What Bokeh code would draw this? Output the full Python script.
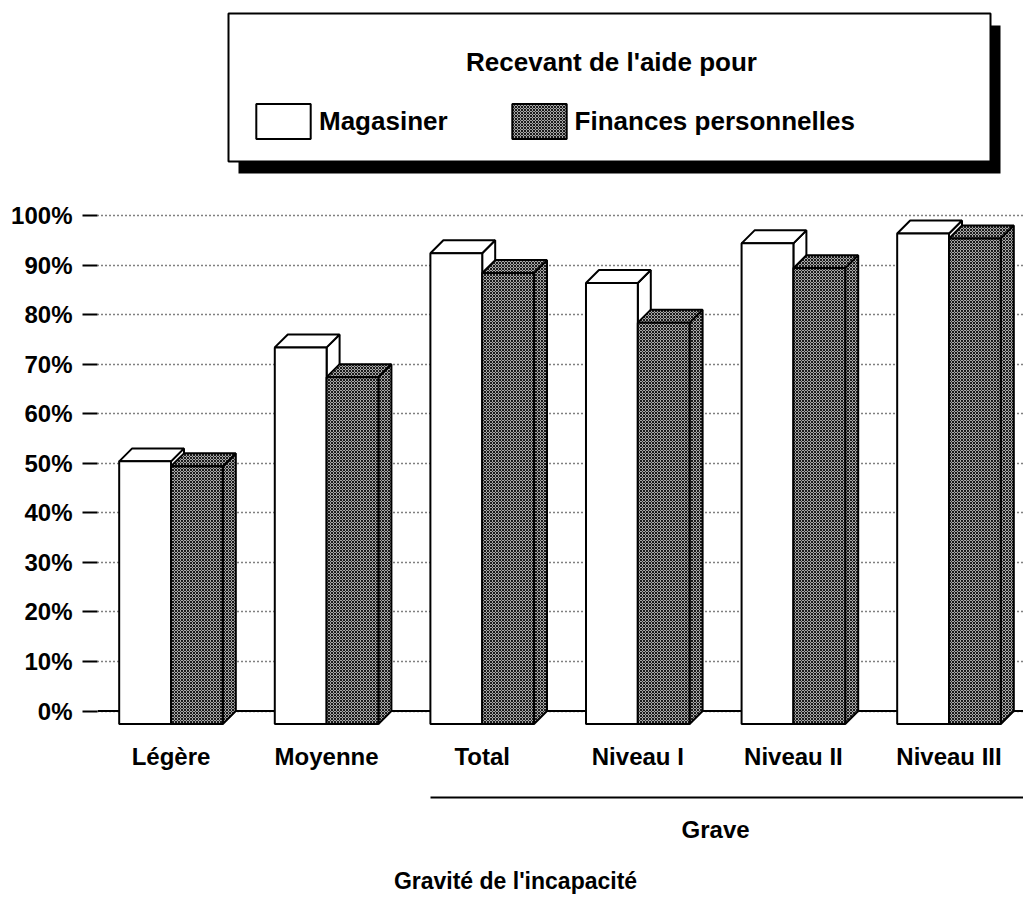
from bokeh.plotting import figure
from bokeh.models import (Range1d, FixedTicker, LinearAxis, Legend, LegendItem, Span,
                          BoxAnnotation, Label, PrintfTickFormatter, ColumnDataSource)
from bokeh.embed import file_html
from bokeh.resources import INLINE

# ---------------- data ----------------
categories = ["Légère", "Moyenne", "Total", "Niveau I", "Niveau II", "Niveau III"]
magasiner = [53, 76, 95, 89, 97, 99]
finances = [52, 70, 91, 81, 92, 98]
series_names = ["Magasiner", "Finances personnelles"]
pct_ticks = [0, 10, 20, 30, 40, 50, 60, 70, 80, 90, 100]
grave_members = ["Total", "Niveau I", "Niveau II", "Niveau III"]
grave_label = "Grave"
legend_title = "Recevant de l'aide pour"
x_title = "Gravité de l'incapacité"

# ---------------- style / layout ----------------
FONT = "Liberation Sans"
BAR_W = 0.333      # width of one bar (category units)
DX = 0.0835        # 3D depth, x (category units)
DY = 2.62          # 3D depth, y (percent units)
X0, X1 = -0.4724, 5.4788
Y0, Y1 = -2.926, 143.39
GRAY = "#a8a8a8"
XC = 2.214         # centre of the axis title (category units)

idx = list(range(len(categories)))

def bar_source(vals, offset):
    left = [i + offset for i in idx]
    right = [l + BAR_W for l in left]
    return ColumnDataSource(dict(
        left=left, right=right,
        bottom=[-DY] * len(vals), top=[v - DY for v in vals],
        top_xs=[[l, r, r + DX, l + DX] for l, r in zip(left, right)],
        top_ys=[[v - DY, v - DY, v, v] for v in vals],
        side_xs=[[r, r + DX, r + DX, r] for r in right],
        side_ys=[[-DY, 0, v, v - DY] for v in vals],
    ))

white_src = bar_source(magasiner, -BAR_W)
gray_src = bar_source(finances, 0.0)

p = figure(frame_width=926, frame_height=725,
           x_range=Range1d(X0, X1), y_range=Range1d(Y0, Y1),
           output_backend="svg", toolbar_location=None,
           x_axis_location=None,
           min_border_left=97, min_border_right=0, min_border_top=0, min_border_bottom=172)
p.outline_line_color = None
p.background_fill_color = "white"
p.border_fill_color = "white"
for g in p.grid:
    if g.dimension == 0:
        g.visible = False

# y axis
yax = p.yaxis[0]
yax.ticker = FixedTicker(ticks=pct_ticks)
yax.formatter = PrintfTickFormatter(format="%d%%")
yax.axis_line_color = None
yax.major_tick_out = 15
yax.major_tick_in = 0
yax.major_tick_line_width = 2
yax.major_tick_line_color = "black"
yax.minor_tick_line_color = None
yax.major_label_standoff = 10
yax.major_label_text_font = FONT
yax.major_label_text_font_style = "bold"
yax.major_label_text_font_size = "24px"
yax.major_label_text_color = "black"

p.ygrid.grid_line_color = "black"
p.ygrid.grid_line_dash = "1 3"
p.ygrid.grid_line_width = 1.5

p.add_layout(Span(location=0, dimension="width", line_color="black",
                  line_width=2, level="underlay"))

hatch = dict(hatch_pattern="x", hatch_scale=3, hatch_color="#1a1a1a", hatch_weight=1)

# white bars (Magasiner)
p.patches("side_xs", "side_ys", source=white_src, fill_color="white",
          line_color="black", line_width=2)
p.patches("top_xs", "top_ys", source=white_src, fill_color="white",
          line_color="black", line_width=2)
r_white = p.quad(left="left", right="right", bottom="bottom", top="top", source=white_src,
                 fill_color="white", line_color="black", line_width=2)

# gray bars (Finances personnelles)
p.patches("side_xs", "side_ys", source=gray_src, fill_color=GRAY,
          line_color="black", line_width=2, **hatch)
p.patches("top_xs", "top_ys", source=gray_src, fill_color=GRAY,
          line_color="black", line_width=2, **hatch)
r_gray = p.quad(left="left", right="right", bottom="bottom", top="top", source=gray_src,
                fill_color=GRAY, line_color="black", line_width=2, **hatch)

def bare_axis(ax):
    ax.major_tick_line_color = None
    ax.major_tick_out = 0
    ax.major_tick_in = 0
    ax.minor_tick_line_color = None
    ax.major_label_text_font = FONT
    ax.major_label_text_font_style = "bold"
    ax.major_label_text_color = "black"

# x axis: categories
xa = LinearAxis(ticker=FixedTicker(ticks=idx),
                major_label_overrides={i: c for i, c in zip(idx, categories)})
bare_axis(xa)
xa.axis_line_color = None
xa.major_label_standoff = 17
xa.major_label_text_font_size = "24px"
xa.axis_label = " "
xa.axis_label_text_font_size = "16px"
xa.axis_label_standoff = 5
p.add_layout(xa, "below")

# group axis: Grave
g_pos = [categories.index(c) for c in grave_members]
g_center = sum(g_pos) / len(g_pos)
xb = LinearAxis(ticker=FixedTicker(ticks=[g_center]),
                major_label_overrides={g_center: grave_label},
                bounds=(min(g_pos) - BAR_W, X1))
bare_axis(xb)
xb.axis_line_color = "black"
xb.axis_line_width = 2
xb.major_label_standoff = 18
xb.major_label_text_font_size = "24px"
p.add_layout(xb, "below")

# axis title
xc = LinearAxis(ticker=FixedTicker(ticks=[XC]), major_label_overrides={XC: x_title})
bare_axis(xc)
xc.axis_line_color = None
xc.major_label_standoff = 22
xc.major_label_text_font_size = "23px"
p.add_layout(xc, "below")

# legend frame with shadow
p.add_layout(BoxAnnotation(left=141, right=903, top=700, bottom=552,
                           left_units="screen", right_units="screen",
                           top_units="screen", bottom_units="screen",
                           fill_color="black", fill_alpha=1, line_color=None))
p.add_layout(BoxAnnotation(left=131, right=893, top=712, bottom=564,
                           left_units="screen", right_units="screen",
                           top_units="screen", bottom_units="screen",
                           fill_color="white", fill_alpha=1,
                           line_color="black", line_width=2, line_alpha=1))
p.add_layout(Label(x=514, y=664, x_units="screen", y_units="screen",
                   text=legend_title, text_align="center", text_baseline="middle",
                   text_font=FONT, text_font_style="bold", text_font_size="26px",
                   text_color="black"))

legend = Legend(items=[LegendItem(label=series_names[0], renderers=[r_white]),
                       LegendItem(label=series_names[1], renderers=[r_gray])],
                orientation="horizontal", location=(152, 582),
                glyph_width=68, glyph_height=44, label_standoff=2, spacing=57,
                padding=0, margin=0, border_line_color=None,
                background_fill_alpha=0,
                label_text_font=FONT, label_text_font_style="bold",
                label_text_font_size="26px", label_text_color="black")
p.add_layout(legend)

open("out.html", "w").write(file_html(p, INLINE))
